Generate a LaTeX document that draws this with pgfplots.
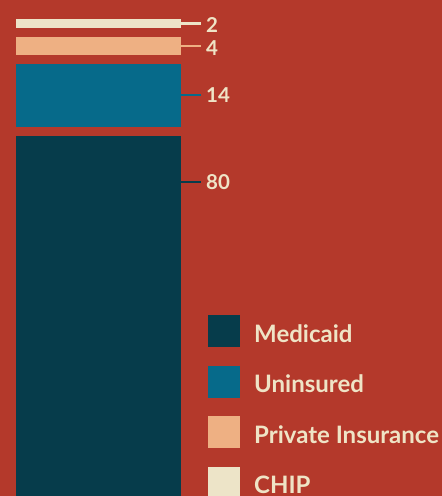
\documentclass[border=0pt]{standalone}
\usepackage{pgfplots}
\pgfplotsset{compat=1.18}
\usepackage{fontspec}
\setmainfont{Lato}
\definecolor{bgred}{HTML}{B4392B}
\definecolor{chip}{HTML}{EDE4C8}
\definecolor{priv}{HTML}{EEB083}
\definecolor{unins}{HTML}{066A8A}
\definecolor{medic}{HTML}{063C4B}
\definecolor{cream}{HTML}{EFE4C6}
\begin{document}
\begin{tikzpicture}
\fill[bgred] (0,0) rectangle (442pt,496pt);
\useasboundingbox (0,0) rectangle (442pt,496pt);
\pgfplotsset{base/.style={at={(0,0)}, anchor=south west, scale only axis,
  width=442pt, height=496pt, xmin=0, xmax=442, ymin=0, ymax=110.2222,
  hide axis, clip=false}}
% stacked bar (gaps are invisible segments)
\begin{axis}[base, ybar stacked, bar width=165, bar shift=0pt]
\addplot[fill=medic, draw=none] coordinates {(98.5,80)};
\addplot[fill=none, draw=none] coordinates {(98.5,2)};
\addplot[fill=unins, draw=none] coordinates {(98.5,14)};
\addplot[fill=none, draw=none] coordinates {(98.5,2)};
\addplot[fill=priv, draw=none] coordinates {(98.5,4)};
\addplot[fill=none, draw=none] coordinates {(98.5,2)};
\addplot[fill=chip, draw=none] coordinates {(98.5,2)};
\end{axis}
% leader lines, value labels and legend
\begin{axis}[base,
  legend image code/.code={\fill[#1] (0pt,-13pt) rectangle (32pt,19pt);},
  legend cell align=left,
  legend style={at={(0.47059,0.36492)}, anchor=north west, draw=none, fill=none,
    inner sep=0pt, row sep=18.5pt,
    nodes={inner sep=0pt, inner xsep=14pt, text=cream, font=\fontsize{24}{28}\selectfont\bfseries}}]
\addplot[forget plot, chip, line width=2.5pt] coordinates {(181,105)(201,105)};
\addplot[forget plot, priv, line width=2.5pt] coordinates {(181,100)(201,100)};
\addplot[forget plot, unins, line width=2.5pt] coordinates {(181,89.1)(201,89.1)};
\addplot[forget plot, medic, line width=2.5pt] coordinates {(181,69.8)(201,69.8)};
\begin{scope}[every node/.style={anchor=west, inner sep=0pt, text=cream, font=\fontsize{20.5}{24}\selectfont\bfseries}]
\node at (axis cs:206,104.6) {2};
\node at (axis cs:206,99.6) {4};
\node at (axis cs:206,89.1) {14};
\node at (axis cs:206,69.8) {80};
\end{scope}
\addlegendimage{fill=medic, draw=none}
\addlegendentry{Medicaid}
\addlegendimage{fill=unins, draw=none}
\addlegendentry{Uninsured}
\addlegendimage{fill=priv, draw=none}
\addlegendentry{Private Insurance}
\addlegendimage{fill=chip, draw=none}
\addlegendentry{CHIP}
\end{axis}
\end{tikzpicture}
\end{document}
